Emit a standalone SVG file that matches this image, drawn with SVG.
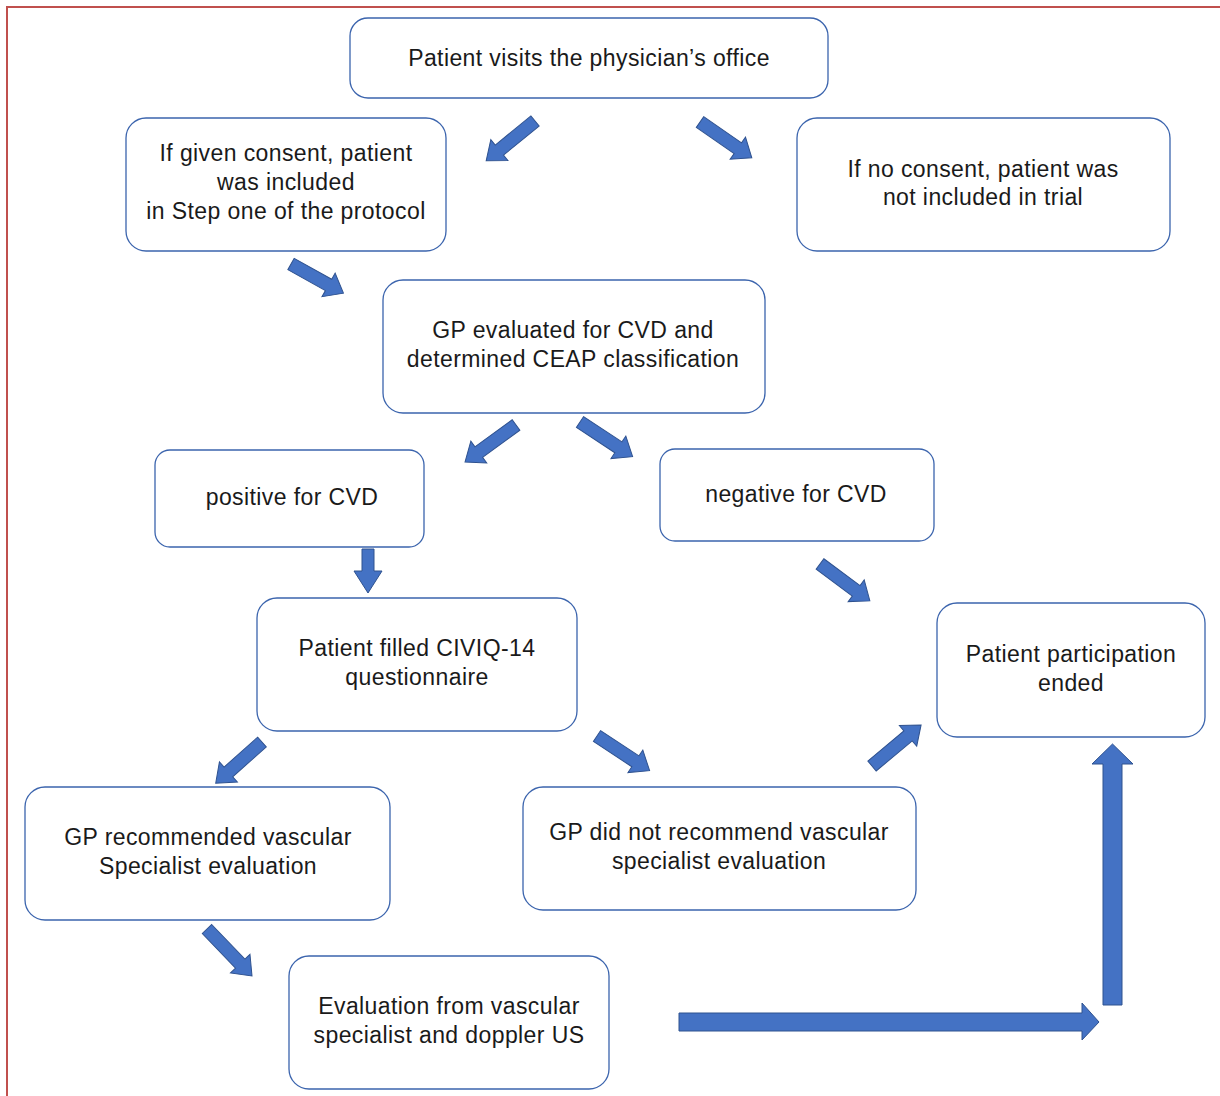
<svg xmlns="http://www.w3.org/2000/svg" width="1220" height="1096" viewBox="0 0 1220 1096">
<style>
.box{fill:#fff;stroke:#3B64AD;stroke-width:1.3}
.t{font-family:"Liberation Sans",Arial,sans-serif;font-size:23px;letter-spacing:0.4px;fill:#1a1a1a;text-anchor:middle}
.ar{fill:#4472C4;stroke:#2F528F;stroke-width:1}
</style>
<rect x="0" y="0" width="1220" height="1096" fill="#fff"/>
<path d="M7,1096 V7 H1220" fill="none" stroke="#C0504D" stroke-width="2"/>
<g id="n1"><rect class="box" x="350" y="18" width="478" height="80" rx="18"/><text class="t" x="589" y="66">Patient visits the physician’s office</text></g>
<g id="n2"><rect class="box" x="126" y="118" width="320" height="133" rx="20"/><text class="t" x="286" y="161">If given consent, patient</text><text class="t" x="286" y="190">was included</text><text class="t" x="286" y="219">in Step one of the protocol</text></g>
<g id="n3"><rect class="box" x="797" y="118" width="373" height="133" rx="20"/><text class="t" x="983" y="177">If no consent, patient was</text><text class="t" x="983" y="205">not included in trial</text></g>
<g id="n4"><rect class="box" x="383" y="280" width="382" height="133" rx="20"/><text class="t" x="573" y="338">GP evaluated for CVD and</text><text class="t" x="573" y="367">determined CEAP classification</text></g>
<g id="n5"><rect class="box" x="155" y="450" width="269" height="97" rx="15"/><text class="t" x="292" y="505">positive for CVD</text></g>
<g id="n6"><rect class="box" x="660" y="449" width="274" height="92" rx="15"/><text class="t" x="796" y="502">negative for CVD</text></g>
<g id="n7"><rect class="box" x="257" y="598" width="320" height="133" rx="20"/><text class="t" x="417" y="656">Patient filled CIVIQ-14</text><text class="t" x="417" y="685">questionnaire</text></g>
<g id="n8"><rect class="box" x="937" y="603" width="268" height="134" rx="20"/><text class="t" x="1071" y="662">Patient participation</text><text class="t" x="1071" y="691">ended</text></g>
<g id="n9"><rect class="box" x="25" y="787" width="365" height="133" rx="20"/><text class="t" x="208" y="845">GP recommended vascular</text><text class="t" x="208" y="874">Specialist evaluation</text></g>
<g id="n10"><rect class="box" x="523" y="787" width="393" height="123" rx="20"/><text class="t" x="719" y="840">GP did not recommend vascular</text><text class="t" x="719" y="869">specialist evaluation</text></g>
<g id="n11"><rect class="box" x="289" y="956" width="320" height="133" rx="20"/><text class="t" x="449" y="1014">Evaluation from vascular</text><text class="t" x="449" y="1043">specialist and doppler US</text></g>
<g id="connectors">
<polygon class="ar" points="0,-6.5 46,-6.5 46,-13.5 63,0 46,13.5 46,6.5 0,6.5" transform="translate(535,121) rotate(140.8)"/>
<polygon class="ar" points="0,-6.5 46,-6.5 46,-13.5 63,0 46,13.5 46,6.5 0,6.5" transform="translate(700,122) rotate(34.7)"/>
<polygon class="ar" points="0,-6.5 43,-6.5 43,-13.5 60,0 43,13.5 43,6.5 0,6.5" transform="translate(291,264) rotate(29.1)"/>
<polygon class="ar" points="0,-6.5 46,-6.5 46,-13.5 63,0 46,13.5 46,6.5 0,6.5" transform="translate(516,425) rotate(144)"/>
<polygon class="ar" points="0,-6.5 46,-6.5 46,-13.5 63,0 46,13.5 46,6.5 0,6.5" transform="translate(580,422) rotate(33.4)"/>
<polygon class="ar" points="362,549 374,549 374,571 382,571 368,593 354,571 362,571"/>
<polygon class="ar" points="0,-6.5 45,-6.5 45,-13.5 62,0 45,13.5 45,6.5 0,6.5" transform="translate(820,564) rotate(36.5)"/>
<polygon class="ar" points="0,-6.5 47,-6.5 47,-13.5 64,0 47,13.5 47,6.5 0,6.5" transform="translate(872,766) rotate(-39.9)"/>
<polygon class="ar" points="0,-6.5 46,-6.5 46,-13.5 63,0 46,13.5 46,6.5 0,6.5" transform="translate(597,736) rotate(33.4)"/>
<polygon class="ar" points="0,-6.5 45,-6.5 45,-13.5 62,0 45,13.5 45,6.5 0,6.5" transform="translate(262,742) rotate(138.3)"/>
<polygon class="ar" points="0,-6.5 48,-6.5 48,-13.5 65,0 48,13.5 48,6.5 0,6.5" transform="translate(207,929) rotate(46.2)"/>
<polygon class="ar" points="679,1013 1082,1013 1082,1003 1099,1022 1082,1040 1082,1031 679,1031"/>
<polygon class="ar" points="1103,1005 1103,764 1092,764 1112.5,744 1133,764 1122,764 1122,1005"/>
</g>
</svg>
